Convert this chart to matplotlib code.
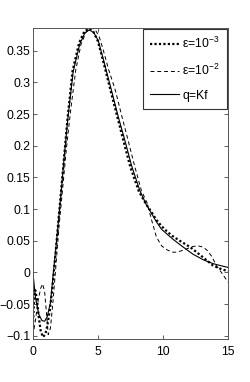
import matplotlib
matplotlib.use("Agg")
import matplotlib.pyplot as plt

plt.rcParams['font.family'] = ['Liberation Sans', 'DejaVu Sans']
plt.rcParams['mathtext.fontset'] = 'custom'
plt.rcParams['mathtext.rm'] = 'Liberation Sans'
plt.rcParams['mathtext.it'] = 'Liberation Sans'

# q = Kf (solid)
x_kf = [0, 0.2, 0.45, 0.7, 0.9, 1.1, 1.35, 1.6, 1.8, 2.1, 2.4, 2.7, 3.1, 3.6, 4.0, 4.35,
        4.7, 5.03, 5.5, 6.05, 6.55, 7.08, 7.6, 8.23, 8.7, 9.1, 9.5, 9.9, 10.4, 10.8, 11.5,
        12.3, 13.1, 13.85, 14.4, 15]
y_kf = [0, -0.04, -0.066, -0.076, -0.077, -0.07, -0.048, 0.005, 0.045, 0.11, 0.18, 0.245,
        0.317, 0.36, 0.378, 0.383, 0.378, 0.366, 0.33, 0.287, 0.247, 0.208, 0.168, 0.129,
        0.108, 0.094, 0.08, 0.068, 0.059, 0.052, 0.041, 0.029, 0.02, 0.014, 0.011, 0.008]

# eps = 1e-3 (dotted)
x_e3 = [0, 0.1, 0.18, 0.3, 0.45, 0.6, 0.77, 0.95, 1.1, 1.3, 1.5, 1.7, 2.0, 2.35, 2.65,
        3.05, 3.55, 3.95, 4.3, 4.65, 5.0, 5.45, 6.0, 6.5, 7.0, 7.5, 8.15, 8.7, 9.1, 9.5,
        9.9, 10.3, 10.7, 11.3, 12.1, 12.9, 13.5, 13.85, 14.4, 15]
y_e3 = [-0.085, -0.04, -0.028, -0.04, -0.07, -0.092, -0.102, -0.098, -0.085, -0.06,
        -0.025, 0.02, 0.09, 0.17, 0.24, 0.318, 0.362, 0.38, 0.385, 0.38, 0.365, 0.33,
        0.285, 0.245, 0.205, 0.166, 0.128, 0.108, 0.096, 0.083, 0.073, 0.065, 0.058,
        0.05, 0.04, 0.027, 0.017, 0.011, 0.006, 0.002]

# eps = 1e-2 (dashed)
x_e2 = [0, 0.2, 0.4, 0.6, 0.75, 0.9, 1.05, 1.18, 1.35, 1.55, 1.75, 2.0, 2.3, 2.6, 2.9,
        3.3, 3.7, 4.1, 4.5, 4.8, 5.1, 5.4, 5.8, 6.35, 6.8, 7.33, 7.8, 8.35, 8.8, 9.1, 9.5,
        9.9, 10.3, 10.7, 11.0, 11.4, 11.8, 12.3, 12.7, 13.1, 13.4, 13.8, 14.1, 14.5, 15]
y_e2 = [-0.1, -0.075, -0.045, -0.025, -0.018, -0.03, -0.065, -0.098, -0.088, -0.045,
        0.005, 0.07, 0.135, 0.2, 0.255, 0.32, 0.36, 0.38, 0.386, 0.383, 0.372, 0.352,
        0.322, 0.287, 0.25, 0.208, 0.17, 0.129, 0.109, 0.085, 0.056, 0.042, 0.036, 0.032,
        0.032, 0.034, 0.037, 0.041, 0.042, 0.04, 0.035, 0.024, 0.011, 0.0, -0.015]

labels = [r'ε=10$^{-3}$', r'ε=10$^{-2}$', 'q=Kf']
xticks = [0, 5, 10, 15]
yticks = [-0.1, -0.05, 0, 0.05, 0.1, 0.15, 0.2, 0.25, 0.3, 0.35]
yticklabels = ['\u22120.1', '\u22120.05', '0', '0.05', '0.1', '0.15', '0.2', '0.25', '0.3', '0.35']

fig = plt.figure(figsize=(2.51, 3.82), dpi=100)
ax = fig.add_axes([0.131, 0.1126, 0.777, 0.8144])

ax.plot(x_e3, y_e3, color='black', linestyle=(0, (1, 1)), linewidth=1.6, label=labels[0])
ax.plot(x_e2, y_e2, color='black', linestyle=(0, (4, 3)), linewidth=0.7, label=labels[1])
ax.plot(x_kf, y_kf, color='black', linestyle='-', linewidth=0.8, label=labels[2])

ax.set_xlim(0, 15)
ax.set_ylim(-0.105, 0.386)
ax.set_xticks(xticks)
ax.set_xticklabels([str(t) for t in xticks])
ax.set_yticks(yticks)
ax.set_yticklabels(yticklabels)
ax.tick_params(direction='in', length=3, width=0.6, top=True, right=True,
               labelsize=8.8, pad=2, color='#444444')
ax.tick_params(axis='x', pad=5)
for s in ax.spines.values():
    s.set_linewidth(0.7)
    s.set_color('#555555')

leg = ax.legend(loc='upper right', bbox_to_anchor=(0.997, 0.997), borderaxespad=0,
                fontsize=8.8, handlelength=2.3, handletextpad=0.3, labelspacing=0.95,
                borderpad=0.6, fancybox=False, framealpha=1, edgecolor='#333333')
leg.get_frame().set_linewidth(0.8)

fig.savefig('out.png', dpi=100)
